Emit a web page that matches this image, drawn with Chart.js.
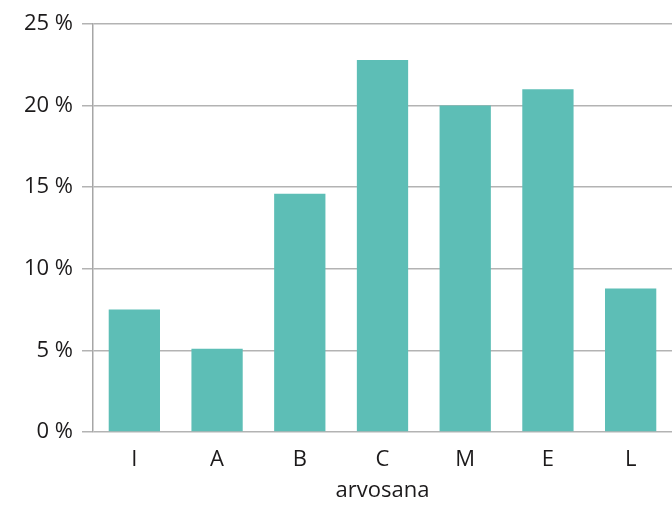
<!DOCTYPE html>
<html>
<head>
<meta charset="utf-8">
<script src="https://cdn.jsdelivr.net/npm/chart.js@4.4.1/dist/chart.umd.min.js"></script>
<style>
  html, body { margin: 0; padding: 0; background: #ffffff; }
  #wrap { width: 672px; height: 505px; }
</style>
</head>
<body>
<div id="wrap"><canvas id="chart" width="672" height="505"></canvas></div>
<script>
// Grade categories and share of answers per grade (%)
const grades = ['I', 'A', 'B', 'C', 'M', 'E', 'L'];
const shares = [7.5, 5.1, 14.6, 22.8, 20.0, 21.0, 8.8];
const yTicks = [0, 5, 10, 15, 20, 25];

const FONT = "'Open Sans', 'Noto Sans', sans-serif";
const TEXT = '#1c1a1b';
const GRID = '#b3b3b3';

new Chart(document.getElementById('chart'), {
  type: 'bar',
  data: {
    labels: grades,
    datasets: [{
      data: shares,
      backgroundColor: '#5dbeb6',
      borderWidth: 0,
      barPercentage: 0.62,
      categoryPercentage: 1.0
    }]
  },
  options: {
    responsive: false,
    animation: false,
    devicePixelRatio: 1,
    layout: { padding: { top: 24, right: 0, bottom: 0, left: 0 } },
    plugins: { legend: { display: false }, tooltip: { enabled: false } },
    scales: {
      x: {
        offset: true,
        grid: { display: false },
        border: { display: false },
        ticks: { color: TEXT, font: { family: FONT, size: 22, weight: 500 }, padding: 7 },
        title: {
          display: true,
          text: 'arvosana',
          color: TEXT,
          font: { family: FONT, size: 22, weight: 500 },
          padding: { top: 0, bottom: 1 }
        },
        afterFit: (s) => { s.height = 73; }
      },
      y: {
        min: 0,
        max: 25,
        afterBuildTicks: (s) => { s.ticks = yTicks.map(v => ({ value: v })); },
        grid: { color: GRID, lineWidth: 1.5, tickLength: 11, drawTicks: true },
        border: { display: true, color: '#a6a6a6', width: 1.5 },
        ticks: {
          color: TEXT,
          font: { family: FONT, size: 22, weight: 500 },
          padding: 9,
          callback: (v) => v + ' %'
        },
        afterFit: (s) => { s.width = 93; }
      }
    }
  }
});
</script>
</body>
</html>
